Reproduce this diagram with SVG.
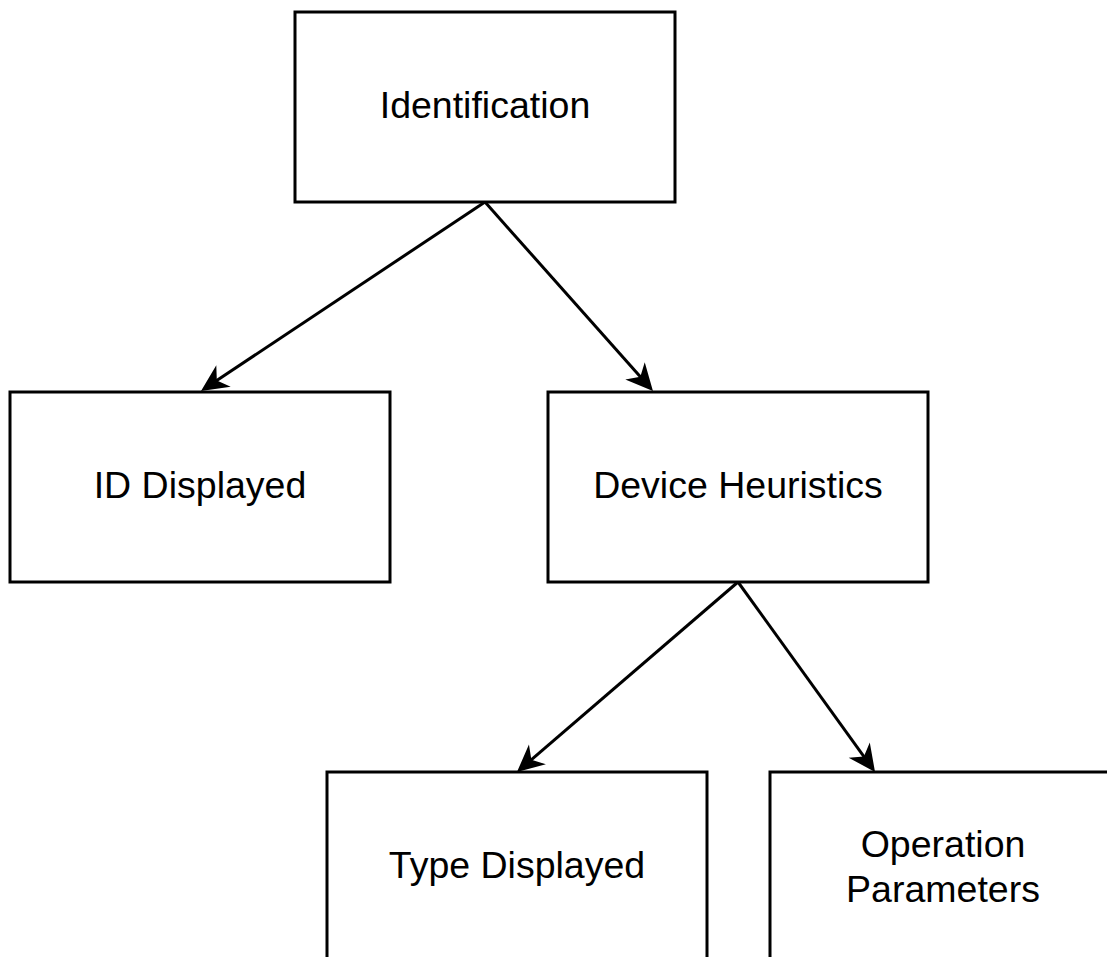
<svg xmlns="http://www.w3.org/2000/svg" width="1107" height="957" viewBox="0 0 1107 957">
<style>
.box{fill:#fff;stroke:#000;stroke-width:3}
.lbl{font-family:"Liberation Sans",Arial,sans-serif;font-size:37.5px;fill:#000;text-anchor:middle}
.edge{stroke:#000;stroke-width:3;fill:none}
</style>
<defs>
<marker id="arr" markerUnits="userSpaceOnUse" viewBox="-12 -15 32 30" markerWidth="32" markerHeight="30" refX="0" refY="0" orient="auto">
<path d="M18,0 L-9,-13 L-1,0 L-9,13 Z" fill="#000"/>
</marker>
</defs>
<rect width="1107" height="957" fill="#fff"/>
<g id="edges">
<line class="edge" x1="485" y1="202" x2="216" y2="381" marker-end="url(#arr)"/>
<line class="edge" x1="485" y1="202" x2="641" y2="377.6" marker-end="url(#arr)"/>
<line class="edge" x1="738" y1="582" x2="530.6" y2="760.3" marker-end="url(#arr)"/>
<line class="edge" x1="738" y1="582" x2="864.5" y2="757.4" marker-end="url(#arr)"/>
</g>
<g id="identification">
<rect class="box" x="295" y="12" width="380" height="190"/>
<text class="lbl" x="485" y="118">Identification</text>
</g>
<g id="id-displayed">
<rect class="box" x="10" y="392" width="380" height="190"/>
<text class="lbl" x="200" y="498">ID Displayed</text>
</g>
<g id="device-heuristics">
<rect class="box" x="548" y="392" width="380" height="190"/>
<text class="lbl" x="738" y="498">Device Heuristics</text>
</g>
<g id="type-displayed">
<rect class="box" x="327" y="772" width="380" height="190"/>
<text class="lbl" x="517" y="878">Type Displayed</text>
</g>
<g id="operation-parameters">
<rect class="box" x="770" y="772" width="380" height="190"/>
<text class="lbl" x="943" y="857">Operation</text>
<text class="lbl" x="943" y="902">Parameters</text>
</g>
</svg>
